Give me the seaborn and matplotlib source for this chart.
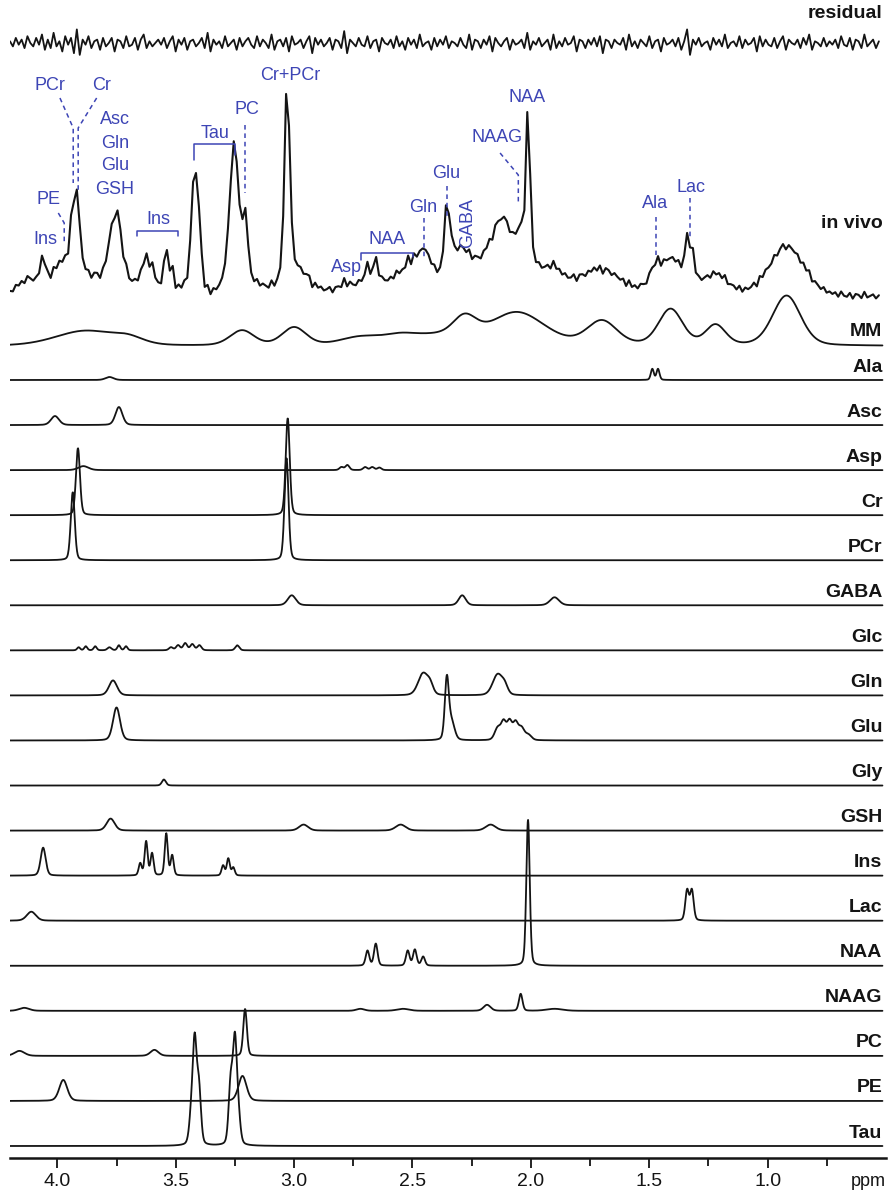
import numpy as np
import matplotlib
matplotlib.use("Agg")
import matplotlib.pyplot as plt
import seaborn as sns

sns.set_theme(style="white")
plt.rcParams["font.family"] = ["Liberation Sans", "DejaVu Sans"]

# ---- data ----
# every fitted component as peaks: (ppm, height in px, fwhm in ppm)
MM = [(3.88, 15, 0.30), (3.70, 6, 0.15), (3.22, 15, 0.12), (3.00, 18, 0.12),
      (2.72, 8, 0.20), (2.55, 9, 0.18), (2.40, 8, 0.20), (2.28, 22, 0.12),
      (2.06, 33, 0.28), (1.70, 24, 0.15), (1.41, 36, 0.12), (1.22, 20, 0.10),
      (0.92, 50, 0.14)]
Ala = [(3.78, 3, 0.04), (1.487, 11, 0.015), (1.463, 11, 0.015)]
Asc = [(4.01, 9, 0.04), (3.74, 18, 0.035)]
Asp = [(3.89, 4, 0.05), (2.80, 3, 0.02), (2.775, 5, 0.02), (2.70, 3, 0.02),
       (2.67, 3, 0.02), (2.64, 2.5, 0.02)]
Cr = [(3.913, 67, 0.02), (3.027, 97, 0.02)]
PCr = [(3.935, 68, 0.02), (3.032, 102, 0.02)]
GABA = [(3.01, 10, 0.04), (2.29, 10, 0.035), (1.90, 8, 0.045)]
Glc = [(3.91, 3, 0.015), (3.88, 4, 0.015), (3.84, 4, 0.015), (3.78, 3, 0.02),
       (3.74, 5, 0.015), (3.71, 4, 0.015), (3.52, 3, 0.02), (3.49, 5, 0.02),
       (3.46, 7, 0.02), (3.43, 6, 0.02), (3.40, 5, 0.02), (3.24, 5, 0.02)]
Gln = [(3.765, 15, 0.04), (2.455, 22, 0.05), (2.425, 8, 0.03),
       (2.14, 21, 0.05), (2.11, 7, 0.03)]
Glu = [(3.75, 33, 0.035), (2.355, 60, 0.02), (2.335, 18, 0.03), (2.14, 12, 0.03),
       (2.115, 17, 0.025), (2.09, 18, 0.025), (2.065, 16, 0.025), (2.04, 12, 0.03),
       (2.01, 5, 0.03)]
Gly = [(3.55, 6, 0.02)]
GSH = [(3.775, 12, 0.04), (2.96, 6, 0.045), (2.55, 6, 0.05), (2.17, 6, 0.05)]
Ins = [(4.06, 28, 0.025), (3.65, 12, 0.015), (3.625, 34, 0.015), (3.60, 22, 0.015),
       (3.54, 42, 0.015), (3.515, 20, 0.015), (3.30, 10, 0.015), (3.278, 17, 0.015),
       (3.257, 8, 0.015)]
Lac = [(4.11, 9, 0.045), (1.34, 30, 0.018), (1.32, 30, 0.018)]
NAA = [(2.69, 15, 0.018), (2.655, 22, 0.018), (2.52, 15, 0.018), (2.49, 16, 0.018),
       (2.455, 9, 0.018), (2.012, 146, 0.017)]
NAAG = [(4.14, 3, 0.05), (2.72, 2, 0.04), (2.54, 2, 0.06), (2.185, 6, 0.035),
        (2.043, 17, 0.018), (1.90, 2, 0.08)]
PC = [(4.16, 5, 0.05), (3.59, 6, 0.04), (3.207, 47, 0.018)]
PE = [(3.975, 21, 0.04), (3.218, 25, 0.04)]
Tau = [(3.435, 25, 0.02), (3.42, 100, 0.02), (3.402, 55, 0.02),
       (3.268, 60, 0.02), (3.25, 100, 0.02), (3.235, 25, 0.02)]

component_names = ["MM", "Ala", "Asc", "Asp", "Cr", "PCr", "GABA", "Glc", "Gln",
                   "Glu", "Gly", "GSH", "Ins", "Lac", "NAA", "NAAG", "PC", "PE", "Tau"]
component_peaks = [MM, Ala, Asc, Asp, Cr, PCr, GABA, Glc, Gln,
                   Glu, Gly, GSH, Ins, Lac, NAA, NAAG, PC, PE, Tau]

# fit residual (px), sampled across the spectrum
residual = [
    1, -2, 3, -1, 2, -3, 4, 0, -2, 3, -1, 5, -4, 2, -3, 6, -2, 1, -5, 4,
    -1, 3, -6, 8, -7, 2, -1, 4, -3, 1, 2, -4, 3, -2, 0, 3, -5, 2, 1, -3,
    4, -2, -1, 3, -4, 2, 5, -3, 1, -2, 0, 2, -1, 3, -3, 1, 4, -5, 2, -1,
    3, -4, 1, 2, -2, 0, 3, -3, 6, -5, 2, -1, 1, -3, 4, -2, 0, 2, -4, 3,
    -2, 1, 3, -1, -3, 4, -2, 2, 0, -3, 5, -4, 1, 2, -2, 3, -5, 4, -1, 0,
    2, -3, 1, 4, -6, 3, -1, 2, -2, 0, 3, -4, 2, 1, -3, 7, -6, 2, 0, -2,
    3, -1, -2, 4, -3, 1, 2, -5, 3, 0, -1, 2, -3, 4, -2, 1, -4, 3, -1, 2,
    -3, 5, -2, 0, 1, -4, 3, -2, 2, -1, 4, -3, 1, 0, -2, 3, -1, -3, 5, -4,
    2, 1, -3, 2, -1, 4, -5, 3, 0, -2, 1, 3, -4, 2, -1, 0, 2, -3, 6, -4,
    1, -1, 3, -2, 0, 2, -4, 5, -3, 1, -2, 3, -1, 0, 4, -5, 2, 1, -3, 2,
    -1, 3, -2, 4, -6, 2, 1, -3, 2, 0, -1, 3, -4, 5, -2, 1, -3, 2, 0, -2,
    4, -3, 1, 2, -5, 3, -1, 0, 2, -2, 3, -4, 1, 8, -7, 2, -1, 3, -2, 0,
    1, -4, 3, -1, 2, -2, 5, -3, 0, 1, -2, 4, -3, 2, -1, 0, 3, -5, 4, -2,
    2, -1, -2, 3, -3, 1, 4, -4, 2, 0, -1, 2, -3, 3, -1, 5, -4, 1, 0, -2,
    3, -2, 1, -1, 2, -3, 4, -1, -2, 3, -4, 2, 1, -3, 5, -2, 0, 2, -3, 1,
]

# blue assignments on the in vivo spectrum: (text, ppm, y px, rotation)
annotations = [
    ("PCr", 4.031, 85, 0), ("Cr", 3.813, 85, 0), ("Asc", 3.757, 120, 0),
    ("Gln", 3.757, 143, 0), ("Glu", 3.757, 166, 0), ("GSH", 3.757, 190, 0),
    ("PE", 4.038, 200, 0), ("Ins", 4.049, 239, 0), ("Ins", 3.575, 219, 0),
    ("Tau", 3.334, 133, 0), ("PC", 3.200, 110, 0), ("Cr+PCr", 3.017, 75, 0),
    ("Asp", 2.778, 267, 0), ("NAA", 2.609, 240, 0), ("Gln", 2.454, 207, 0),
    ("Glu", 2.356, 173, 0), ("GABA", 2.267, 223, 90), ("NAAG", 2.144, 138, 0),
    ("NAA", 2.018, 97, 0), ("Ala", 1.476, 203, 0), ("Lac", 1.324, 187, 0),
]
dashed_leaders = [
    [(3.989, 98), (3.933, 128), (3.933, 183)],
    [(3.834, 98), (3.912, 128), (3.912, 190)],
    [(3.996, 213), (3.971, 223), (3.971, 245)],
    [(3.207, 125), (3.207, 193)],
    [(2.450, 218), (2.450, 257)],
    [(2.356, 186), (2.356, 217)],
    [(2.130, 153), (2.053, 175), (2.053, 205)],
    [(1.473, 217), (1.473, 255)],
    [(1.328, 198), (1.328, 237)],
]
brackets = [
    [(3.665, 236), (3.665, 231), (3.489, 231), (3.489, 236)],
    [(3.422, 160), (3.422, 144), (3.250, 144), (3.250, 155)],
    [(2.717, 260), (2.717, 253), (2.499, 253), (2.499, 257)],
]
major_ticks = [4.0, 3.5, 3.0, 2.5, 2.0, 1.5, 1.0]


def band(x, peaks, broaden=1.0):
    """pseudo-Voigt lines, height in px"""
    y = np.zeros_like(x)
    for c, h, w in peaks:
        d = (x - c) / (w * broaden)
        y += h * (0.75 * np.exp(-4 * np.log(2) * d ** 2) + 0.25 / (1 + 4 * d ** 2))
    return y


ink = "#141414"
blue = "#3d45b5"

fig = plt.figure(figsize=(8.89, 11.97), dpi=100)
ax = fig.add_axes([10 / 889, 39 / 1197, 876 / 889, 1158 / 1197])

x = np.linspace(4.20, 0.515, 2500)
x_res = np.linspace(4.20, 0.53, len(residual))
res = np.array(residual, dtype=float)

# residual on top
sns.lineplot(x=x_res, y=43 - 1.7 * res, ax=ax, color=ink, lw=1.3,
             estimator=None, sort=False)
ax.text(0.515, 14, "residual", ha="right", va="center", fontsize=14,
        fontweight="bold", color=ink)

# in vivo = all components (in vivo linewidth) + residual
fit = sum(band(x_res, pk, broaden=1.25) for pk in component_peaks)
sns.lineplot(x=x_res, y=297 - fit - 0.8 * res, ax=ax, color=ink, lw=1.5,
             estimator=None, sort=False)
ax.text(0.515, 223, "in vivo", ha="right", va="center", fontsize=14,
        fontweight="bold", color=ink)

# stacked components
row_base = [346] + list(np.linspace(380, 1146, len(component_names) - 1))
for name, pk, yb in zip(component_names, component_peaks, row_base):
    sns.lineplot(x=x, y=yb - band(x, pk), ax=ax, color=ink, lw=1.3,
                 estimator=None, sort=False)
    ax.text(0.515, yb - 15 if name == "MM" else yb - 13, name, ha="right",
            va="center", fontsize=14, fontweight="bold", color=ink)

# assignments
for txt, px, py, rot in annotations:
    ax.text(px, py, txt, ha="center", va="center", fontsize=13, color=blue,
            rotation=rot)
for seg in dashed_leaders:
    xs, ys = zip(*seg)
    ax.plot(xs, ys, color=blue, lw=1.1, ls=(0, (3, 2.5)))
for seg in brackets:
    xs, ys = zip(*seg)
    ax.plot(xs, ys, color=blue, lw=1.1)

ax.set_xlim(4.20, 0.50)
ax.set_ylim(1158, 0)
ax.set_xticks(major_ticks)
ax.set_xticklabels([f"{t:.1f}" for t in major_ticks])
ax.set_xticks(np.arange(3.75, 0.49, -0.5), minor=True)
ax.set_yticks([])
ax.set_xlabel("")
ax.set_ylabel("")
ax.tick_params(axis="x", which="major", direction="out", length=7, width=1.3,
               labelsize=14, pad=4, colors=ink, bottom=True)
ax.tick_params(axis="x", which="minor", direction="out", length=6, width=1.3,
               colors=ink, bottom=True)
for side in ["top", "left", "right"]:
    ax.spines[side].set_visible(False)
ax.spines["bottom"].set_linewidth(1.8)
ax.spines["bottom"].set_color(ink)
ax.text(0.50, 1182, "ppm", ha="right", va="center", fontsize=13, color=ink,
        clip_on=False)

fig.savefig("out.png", dpi=100, facecolor="white")
